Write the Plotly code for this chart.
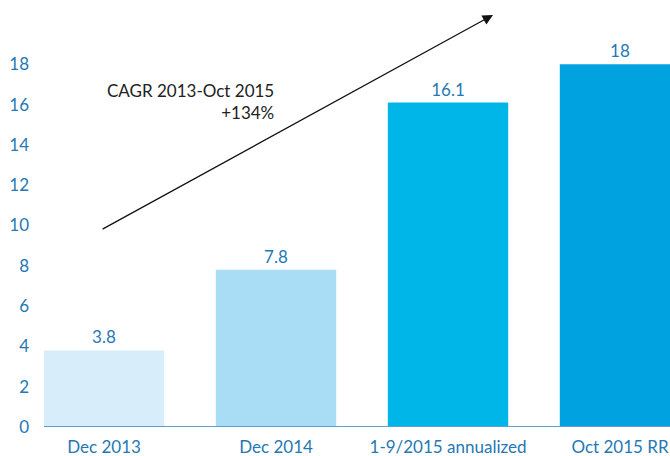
import plotly.graph_objects as go

categories = ["Dec 2013", "Dec 2014", "1-9/2015 annualized", "Oct 2015 RR"]
values = [3.8, 7.8, 16.1, 18]
value_labels = ["3.8", "7.8", "16.1", "18"]
bar_colors = ["#d7eefa", "#a8ddf5", "#00b6e9", "#00a3e0"]
y_ticks = [0, 2, 4, 6, 8, 10, 12, 14, 16, 18]

TEXT_BLUE = "#2478b5"
FONT = "Lato"

fig = go.Figure()
fig.add_trace(go.Bar(
    x=list(range(len(categories))),
    y=values,
    marker=dict(color=bar_colors, line=dict(width=0)),
    text=value_labels,
    textposition="outside",
    textfont=dict(family=FONT, size=17, color=TEXT_BLUE),
    cliponaxis=False,
    width=0.70,
    hoverinfo="skip",
))

W, H = 670, 456
L, R, T, B = 44, 0, 24, 29
xr = [-0.349, (670 - 104) / 172]

fig.update_layout(
    width=W, height=H,
    margin=dict(l=L, r=R, t=T, b=B, pad=0),
    paper_bgcolor="white", plot_bgcolor="white",
    showlegend=False,
    xaxis=dict(
        range=xr,
        automargin=False,
        tickmode="array",
        tickvals=list(range(len(categories))),
        ticktext=categories,
        showgrid=False, zeroline=False,
        showline=False,
        ticks="",
        tickfont=dict(family=FONT, size=17, color=TEXT_BLUE),
        ticklabelstandoff=8,
    ),
    yaxis=dict(
        range=[0, 20],
        automargin=False,
        tickmode="array",
        tickvals=y_ticks,
        showgrid=False, zeroline=False, showline=False,
        ticks="",
        tickfont=dict(family=FONT, size=17, color=TEXT_BLUE),
        ticklabelstandoff=14,
    ),
)

# baseline
fig.add_shape(type="line", xref="paper", yref="y", x0=0, x1=1, y0=0, y1=0,
              line=dict(color="#5b9fd2", width=2))

def px2x(px):
    return (px - 104) / 172

def py2y(py):
    return (427 - py) / ((427 - T) / 20)

fig.add_annotation(
    x=px2x(493), y=py2y(15), ax=px2x(101), ay=py2y(230),
    xref="x", yref="y", axref="x", ayref="y",
    showarrow=True, arrowhead=2, arrowsize=1.6, arrowwidth=1.3,
    arrowcolor="#111111", text="",
)
fig.add_annotation(
    x=px2x(276), y=py2y(101), xref="x", yref="y",
    xanchor="right", yanchor="middle", align="right",
    text="CAGR 2013-Oct 2015<br>+134%", showarrow=False,
    font=dict(family=FONT, size=17, color="#222222"),
)

fig.write_html(
    "out.html",
    config={"displayModeBar": False},
    post_script="document.body.style.margin='0';document.body.style.overflow='hidden';",
)
